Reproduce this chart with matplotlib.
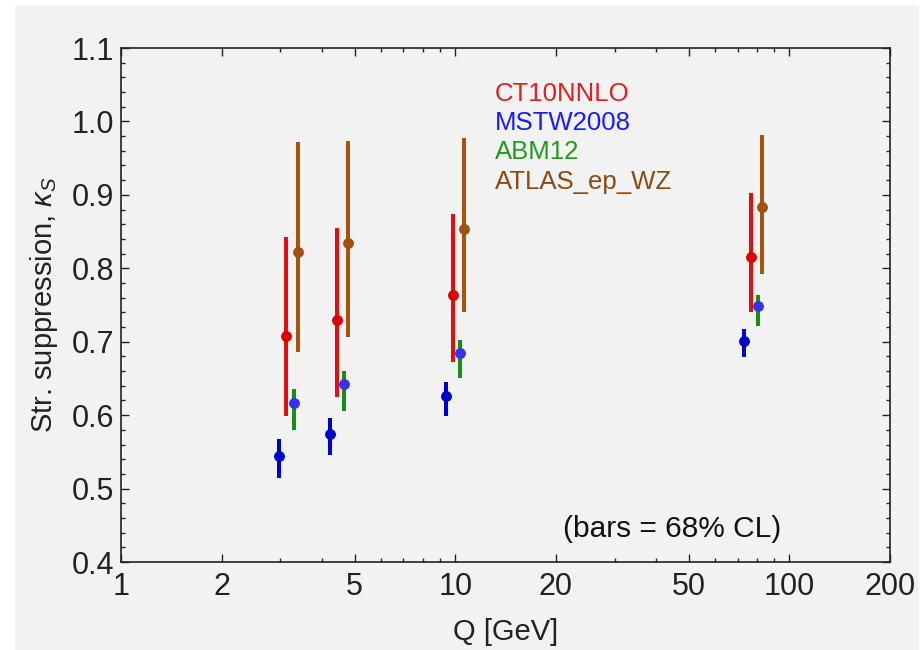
import matplotlib
matplotlib.use("Agg")
import matplotlib.pyplot as plt
from matplotlib.patches import Rectangle
from matplotlib.ticker import FixedLocator, NullFormatter, MultipleLocator, FormatStrFormatter

plt.rcParams['font.family'] = ['Liberation Sans', 'DejaVu Sans']
plt.rcParams['mathtext.fontset'] = 'custom'
plt.rcParams['mathtext.rm'] = 'Liberation Sans'
plt.rcParams['mathtext.it'] = 'Liberation Sans:italic'

# ---- data ----
series_names = ["CT10NNLO", "MSTW2008", "ABM12", "ATLAS_ep_WZ"]

q_ct10 = [3.11, 4.42, 9.82, 76.9]
k_ct10 = [0.708, 0.729, 0.764, 0.816]
lo_ct10 = [0.599, 0.625, 0.672, 0.740]
hi_ct10 = [0.843, 0.855, 0.874, 0.903]

q_mstw = [2.97, 4.22, 9.38, 73.3]
k_mstw = [0.545, 0.575, 0.626, 0.701]
lo_mstw = [0.515, 0.546, 0.599, 0.679]
hi_mstw = [0.567, 0.596, 0.645, 0.717]

q_abm = [3.30, 4.65, 10.32, 80.7]
k_abm = [0.616, 0.642, 0.684, 0.749]
lo_abm = [0.580, 0.605, 0.651, 0.722]
hi_abm = [0.636, 0.660, 0.702, 0.764]

q_atlas = [3.39, 4.77, 10.61, 82.9]
k_atlas = [0.822, 0.835, 0.854, 0.884]
lo_atlas = [0.686, 0.706, 0.740, 0.792]
hi_atlas = [0.972, 0.974, 0.977, 0.982]

x_major = [1, 2, 5, 10, 20, 50, 100, 200]
x_minor = [3, 4, 6, 7, 8, 9, 30, 40, 60, 70, 80, 90]

# ---- figure ----
fig = plt.figure(figsize=(9.24, 6.5), dpi=100, facecolor='white')
fig.patches.append(Rectangle((15/924, 0), (919-15)/924, (650-5)/650,
                             transform=fig.transFigure, facecolor='#f2f2f2',
                             edgecolor='none', zorder=-10))
ax = fig.add_axes([121/924, (650-562)/650, (890-121)/924, (562-48)/650])
ax.set_facecolor('#f2f2f2')

def draw(q, k, lo, hi, color, mcolor):
    yerr = [[kk - l for kk, l in zip(k, lo)], [h - kk for kk, h in zip(k, hi)]]
    ax.errorbar(q, k, yerr=yerr, fmt='o', color=color, ecolor=color,
                mfc=mcolor, mec=mcolor, ms=6.8, elinewidth=2.9, capsize=0, zorder=3)

draw(q_ct10, k_ct10, lo_ct10, hi_ct10, '#dd1111', '#dd0000')
draw(q_mstw, k_mstw, lo_mstw, hi_mstw, '#0000cc', '#0000cc')
draw(q_abm, k_abm, lo_abm, hi_abm, '#1a8c1a', '#3333ee')
draw(q_atlas, k_atlas, lo_atlas, hi_atlas, '#a0560f', '#a0520a')

ax.set_xscale('log')
ax.set_xlim(1, 200)
ax.set_ylim(0.4, 1.1)
ax.xaxis.set_major_locator(FixedLocator(x_major))
ax.xaxis.set_minor_locator(FixedLocator(x_minor))
ax.set_xticklabels([str(v) for v in x_major])
ax.xaxis.set_minor_formatter(NullFormatter())
ax.yaxis.set_major_locator(MultipleLocator(0.1))
ax.yaxis.set_minor_locator(MultipleLocator(0.02))
ax.yaxis.set_major_formatter(FormatStrFormatter('%.1f'))

ax.tick_params(which='both', direction='in', top=True, right=True,
               labelsize=22, colors='#222222', width=1.0)
ax.tick_params(which='major', length=5.5)
ax.tick_params(which='minor', length=3)
ax.tick_params(axis='x', pad=7)
ax.tick_params(axis='y', pad=5)
for s in ax.spines.values():
    s.set_linewidth(1.2)
    s.set_color('#222222')

ax.set_xlabel('Q [GeV]', fontsize=21, color='#222222', labelpad=12)
ax.set_ylabel(r'Str. suppression, $\kappa_S$', fontsize=21, color='#222222', labelpad=8)

legend_colors = ['#e02020', '#1a1aff', '#229922', '#8b4a14']
legend_y = [0.897, 0.840, 0.784, 0.726]
for name, c, y in zip(series_names, legend_colors, legend_y):
    ax.text(0.486, y, name, transform=ax.transAxes, color=c, fontsize=18.5,
            ha='left', va='baseline')

ax.text(0.575, 0.0486, '(bars = 68% CL)', transform=ax.transAxes, color='#111111',
        fontsize=21.5, ha='left', va='baseline')

fig.savefig('out.png', dpi=100, facecolor=fig.get_facecolor())
